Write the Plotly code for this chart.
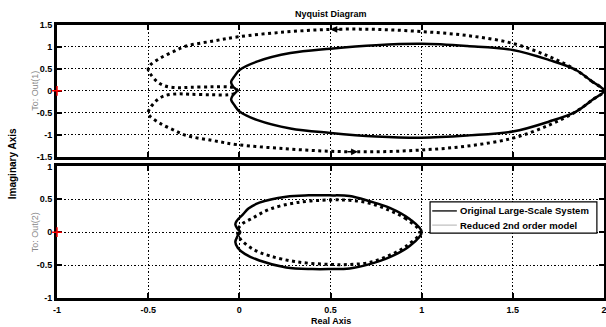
import plotly.graph_objects as go

# ---------------- data ----------------
# Top panel (To: Out(1)) - Original large-scale system (solid)
orig1_x = [2.0, 1.935, 1.844, 1.70, 1.50, 1.25, 1.0, 0.75, 0.50, 0.28, 0.10, 0.003,
           -0.025, -0.045, -0.035, -0.013,
           -0.035, -0.045, -0.025, 0.003, 0.10, 0.28, 0.50, 0.75, 1.0, 1.25, 1.50,
           1.70, 1.844, 1.935, 2.0]
orig1_y = [0.0, 0.21, 0.48, 0.70, 0.93, 1.02, 1.07, 1.04, 0.96, 0.86, 0.67, 0.48,
           0.34, 0.20, 0.10, 0.0,
           -0.10, -0.20, -0.34, -0.48, -0.67, -0.86, -0.96, -1.04, -1.07, -1.02, -0.93,
           -0.70, -0.48, -0.21, 0.0]

# Top panel - Reduced 2nd order model (dotted)
red1_x = [2.0, 1.935, 1.844, 1.70, 1.50, 1.25, 1.0, 0.75, 0.50, 0.25, -0.008, -0.15, -0.29,
          -0.363, -0.436, -0.49, -0.50, -0.49, -0.454, -0.408, -0.34, -0.27, -0.15, -0.06,
          -0.025, -0.01,
          -0.025, -0.06, -0.15, -0.27, -0.34, -0.408, -0.454, -0.49, -0.50, -0.49, -0.436,
          -0.363, -0.29, -0.15, -0.008, 0.25, 0.50, 0.75, 1.0, 1.25, 1.50, 1.70, 1.844,
          1.935, 2.0]
red1_y = [0.0, 0.21, 0.48, 0.78, 1.08, 1.26, 1.35, 1.40, 1.40, 1.34, 1.23, 1.13, 1.02,
          0.89, 0.74, 0.58, 0.50, 0.40, 0.22, 0.11, 0.07, 0.08, 0.09, 0.09,
          0.06, 0.0,
          -0.06, -0.09, -0.09, -0.08, -0.07, -0.11, -0.22, -0.40, -0.50, -0.58, -0.74,
          -0.89, -1.02, -1.13, -1.23, -1.32, -1.38, -1.39, -1.35, -1.26, -1.08, -0.78, -0.48,
          -0.21, 0.0]

# Bottom panel (To: Out(2)) - Original (solid)
orig2_x = [1.0, 0.934, 0.825, 0.715, 0.605, 0.496, 0.38, 0.257, 0.11, 0.05, 0.02, -0.012,
           -0.022, -0.01, 0.005,
           -0.01, -0.022, -0.008, 0.03, 0.11, 0.257, 0.40, 0.496, 0.605, 0.715, 0.825,
           0.934, 1.0]
orig2_y = [0.0, 0.20, 0.37, 0.47, 0.55, 0.56, 0.56, 0.54, 0.45, 0.36, 0.27, 0.18,
           0.12, 0.05, 0.0,
           -0.06, -0.15, -0.24, -0.33, -0.43, -0.535, -0.56, -0.56, -0.55, -0.485, -0.38,
           -0.21, 0.0]

# Bottom panel - Reduced (dotted)
red2_x = [0.99, 0.916, 0.825, 0.715, 0.605, 0.496, 0.313, 0.167, 0.076, 0.005, -0.01,
          0.005, 0.076, 0.167, 0.313, 0.496, 0.605, 0.715, 0.825, 0.916, 0.99]
red2_y = [0.0, 0.20, 0.33, 0.44, 0.485, 0.49, 0.45, 0.35, 0.22, 0.10, 0.0,
          -0.10, -0.26, -0.36, -0.45, -0.49, -0.49, -0.46, -0.35, -0.21, 0.0]

# critical point
crit_x = [-1]
crit_y = [0]

x_ticks = [-1, -0.5, 0, 0.5, 1, 1.5, 2]
x_tick_labels = ["-1", "-0.5", "0", "0.5", "1", "1.5", "2"]
y1_ticks = [-1.5, -1, -0.5, 0, 0.5, 1, 1.5]
y1_tick_labels = ["-1.5", "-1", "-0.5", "0", "0.5", "1", "1.5"]
y2_ticks = [-1, -0.5, 0, 0.5, 1]
y2_tick_labels = ["-1", "-0.5", "0", "0.5", "1"]

series_names = ["Original Large-Scale System", "Reduced 2nd order model"]

# ---------------- figure ----------------
FONT = "Liberation Sans, Arial, sans-serif"
fig = go.Figure()

solid = dict(color="black", width=2.5)
dotted = dict(color="black", width=3, dash="3px,3.5px")

fig.add_trace(go.Scatter(x=orig1_x, y=orig1_y, mode="lines", line=solid, line_shape="spline",
                         xaxis="x", yaxis="y", name=series_names[0], showlegend=False,
                         hoverinfo="skip"))
fig.add_trace(go.Scatter(x=red1_x, y=red1_y, mode="lines", line=dotted, line_shape="spline",
                         xaxis="x", yaxis="y", name=series_names[1], showlegend=False,
                         hoverinfo="skip"))
fig.add_trace(go.Scatter(x=orig2_x, y=orig2_y, mode="lines", line=solid, line_shape="spline",
                         xaxis="x2", yaxis="y2", name=series_names[0], showlegend=False,
                         hoverinfo="skip"))
fig.add_trace(go.Scatter(x=red2_x, y=red2_y, mode="lines", line=dotted, line_shape="spline",
                         xaxis="x2", yaxis="y2", name=series_names[1], showlegend=False,
                         hoverinfo="skip"))

for xa, ya in (("x", "y"), ("x2", "y2")):
    fig.add_trace(go.Scatter(x=crit_x, y=crit_y, mode="markers", xaxis=xa, yaxis=ya,
                             marker=dict(symbol="cross-thin", size=7,
                                         line=dict(color="red", width=1.5)),
                             cliponaxis=False, showlegend=False, hoverinfo="skip"))

axis_common = dict(
    range=[-1, 2], tickvals=x_ticks, ticktext=x_tick_labels,
    showline=True, linecolor="black", linewidth=3, mirror="ticks",
    ticks="inside", ticklen=5, tickwidth=2, tickcolor="black",
    showgrid=True, gridcolor="black", gridwidth=1.3, griddash="1.5px,2px",
    zeroline=False, automargin=False, layer="below traces",
    ticklabeloverflow="allow",
    tickfont=dict(family=FONT, size=9, color="black", weight="bold"),
)

fig.update_layout(
    width=606, height=327,
    margin=dict(l=57, r=2, t=25, b=29, autoexpand=False),
    paper_bgcolor="white", plot_bgcolor="white",
    font=dict(family=FONT, size=9, color="black"),
    xaxis=dict(axis_common, anchor="y", showticklabels=False),
    yaxis=dict(axis_common, range=[-1.5, 1.5], tickvals=y1_ticks, ticktext=y1_tick_labels,
               domain=[0.518, 1.0], anchor="x"),
    xaxis2=dict(axis_common, anchor="y2"),
    yaxis2=dict(axis_common, range=[-1, 1], tickvals=y2_ticks, ticktext=y2_tick_labels,
                domain=[0.0, 0.482], anchor="x2"),
    showlegend=False,
)
fig.update_xaxes(ticklabelstandoff=1)

# titles
ann = []
ann.append(dict(text="Nyquist Diagram", x=0.5, y=1, xref="paper", yref="paper",
                xanchor="center", yanchor="bottom", yshift=4, showarrow=False,
                font=dict(family=FONT, size=9, color="black", weight="bold")))
ann.append(dict(text="Real Axis", x=0.5, y=0, xref="paper", yref="paper",
                xanchor="center", yanchor="top", yshift=-16, showarrow=False,
                font=dict(family=FONT, size=9, color="black", weight="bold")))
ann.append(dict(text="Imaginary Axis", x=0, y=0.49, xref="paper", yref="paper",
                xanchor="center", yanchor="middle", xshift=-45, textangle=-90, showarrow=False,
                font=dict(family=FONT, size=10, color="black", weight="bold")))
ann.append(dict(text="To: Out(1)", x=0, y=0.759, xref="paper", yref="paper",
                xanchor="center", yanchor="middle", xshift=-22, textangle=-90, showarrow=False,
                font=dict(family=FONT, size=9, color="#888888")))
ann.append(dict(text="To: Out(2)", x=0, y=0.241, xref="paper", yref="paper",
                xanchor="center", yanchor="middle", xshift=-22, textangle=-90, showarrow=False,
                font=dict(family=FONT, size=9, color="#888888")))

# direction arrows on the dotted curve, anchored on points of the curve
i_top = 8   # upper branch point, arrow pointing left
ann.append(dict(x=red1_x[i_top], y=red1_y[i_top], ax=12, ay=0,
                xref="x", yref="y", showarrow=True,
                arrowhead=2, arrowsize=0.9, arrowwidth=1.5, arrowcolor="black", text=""))
i_bot = len(red1_x) - 8   # lower branch point, arrow pointing right
ann.append(dict(x=red1_x[i_bot] - 0.1, y=red1_y[i_bot], ax=-12, ay=0,
                xref="x", yref="y", showarrow=True,
                arrowhead=2, arrowsize=0.9, arrowwidth=1.5, arrowcolor="black", text=""))

# manual legend (box, line samples, labels)
leg_x0, leg_x1, leg_y0, leg_y1 = 0.682, 0.987, 0.238, 0.352
row_y = [0.319, 0.267]
row_color = ["#222222", "#b0b0b0"]
row_width = [1.5, 1.0]
shapes = [dict(type="rect", xref="paper", yref="paper", x0=leg_x0, x1=leg_x1,
               y0=leg_y0, y1=leg_y1, line=dict(color="black", width=1.2),
               fillcolor="white", layer="above")]
for name, yy, col, lw in zip(series_names, row_y, row_color, row_width):
    shapes.append(dict(type="line", xref="paper", yref="paper", x0=0.686, x1=0.731,
                       y0=yy, y1=yy, line=dict(color=col, width=lw), layer="above"))
    ann.append(dict(text=name, x=0.733, y=yy, xref="paper", yref="paper",
                    xanchor="left", yanchor="middle", showarrow=False,
                    font=dict(family=FONT, size=9.5, color="black", weight="bold")))

fig.update_layout(annotations=ann, shapes=shapes)

fig.write_html("out.html", config={"displayModeBar": False},
               post_script="document.body.style.margin='0';document.body.style.padding='0';")
